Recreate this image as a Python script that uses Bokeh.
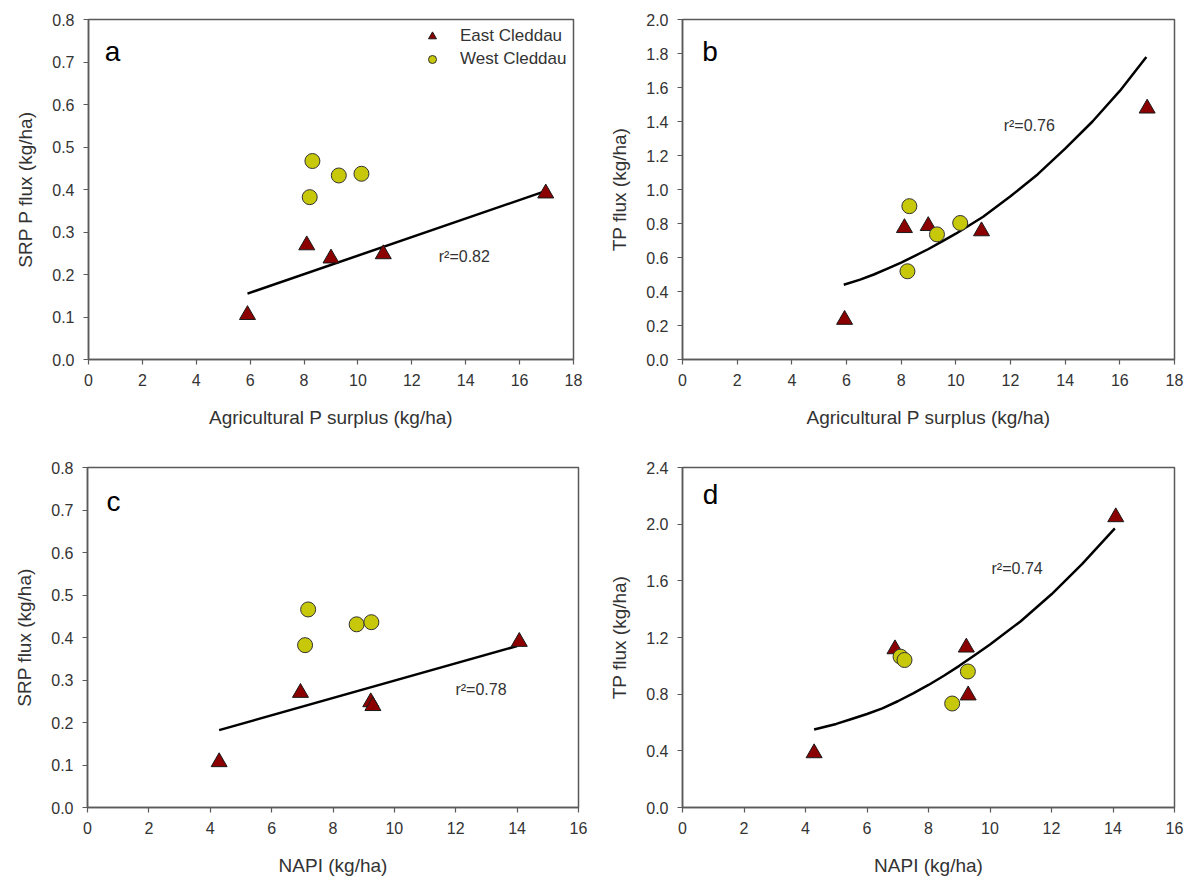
from bokeh.plotting import figure
from bokeh.models import Legend, LegendItem, Label, FixedTicker, PrintfTickFormatter, Range1d
from bokeh.layouts import column, row
from bokeh.embed import file_html
from bokeh.resources import INLINE

# ---------------- data ----------------
# Panel a: SRP P flux vs agricultural P surplus
a_east_x = [5.9, 8.1, 9.0, 10.94, 16.97]
a_east_y = [0.105, 0.269, 0.238, 0.248, 0.391]
a_west_x = [8.21, 8.31, 9.29, 10.13]
a_west_y = [0.382, 0.467, 0.433, 0.437]
a_fit_x = [5.9, 16.9]
a_fit_y = [0.155, 0.395]
a_r2 = "r\u00b2=0.82"

# Panel b: TP flux vs agricultural P surplus
b_east_x = [5.93, 8.12, 8.99, 10.94, 17.0]
b_east_y = [0.234, 0.774, 0.786, 0.755, 1.477]
b_west_x = [8.23, 8.30, 9.31, 10.16]
b_west_y = [0.519, 0.902, 0.736, 0.803]
b_fit_x = [5.9, 6.5, 7, 7.5, 8, 8.5, 9, 9.5, 10, 11, 12, 13, 14, 15, 16, 16.97]
b_fit_y = [0.44, 0.47, 0.50, 0.535, 0.57, 0.61, 0.65, 0.695, 0.74, 0.84, 0.96, 1.09,
           1.24, 1.40, 1.58, 1.78]
b_r2 = "r\u00b2=0.76"

# Panel c: SRP flux vs NAPI
c_east_x = [4.29, 6.94, 9.23, 9.30, 14.07]
c_east_y = [0.107, 0.270, 0.248, 0.239, 0.390]
c_west_x = [7.09, 7.19, 8.77, 9.25]
c_west_y = [0.382, 0.466, 0.431, 0.436]
c_fit_x = [4.29, 14.0]
c_fit_y = [0.182, 0.380]
c_r2 = "r\u00b2=0.78"

# Panel d: TP flux vs NAPI
d_east_x = [4.28, 6.91, 9.23, 9.29, 14.09]
d_east_y = [0.384, 1.118, 1.130, 0.792, 2.050]
d_west_x = [7.09, 7.22, 8.77, 9.28]
d_west_y = [1.065, 1.041, 0.734, 0.960]
d_fit_x = [4.28, 5, 5.5, 6, 6.5, 7, 7.5, 8, 8.5, 9, 9.5, 10, 11, 12, 13, 14.06]
d_fit_y = [0.55, 0.59, 0.625, 0.66, 0.70, 0.75, 0.805, 0.865, 0.93, 1.0, 1.075, 1.15,
           1.315, 1.505, 1.72, 1.97]
d_r2 = "r\u00b2=0.74"

series_names = ["East Cleddau", "West Cleddau"]
x_ticks_surplus = [0, 2, 4, 6, 8, 10, 12, 14, 16, 18]
x_ticks_napi = [0, 2, 4, 6, 8, 10, 12, 14, 16]
y_ticks_srp = [0.0, 0.1, 0.2, 0.3, 0.4, 0.5, 0.6, 0.7, 0.8]
y_ticks_tp_b = [0.0, 0.2, 0.4, 0.6, 0.8, 1.0, 1.2, 1.4, 1.6, 1.8, 2.0]
y_ticks_tp_d = [0.0, 0.4, 0.8, 1.2, 1.6, 2.0, 2.4]

# ---------------- style ----------------
FONT = "Liberation Sans"
TRI_FILL = "#8b0000"
CIR_FILL = "#c8c80a"
AXIS_COL = "#5a5a5a"
TEXT_COL = "#333333"


def make_panel(ex, ey, wx, wy, fx, fy, r2, r2_pos, letter, letter_pos,
               xticks, yticks, xlabel, ylabel, borders):
    left, right, top, bottom = borders
    p = figure(width=595, height=443, output_backend="svg", toolbar_location=None,
               x_range=Range1d(xticks[0], xticks[-1]), y_range=Range1d(yticks[0], yticks[-1]),
               min_border_left=left, min_border_right=right,
               min_border_top=top, min_border_bottom=bottom)
    p.background_fill_color = "white"
    p.border_fill_color = "white"
    p.grid.visible = False
    p.outline_line_color = AXIS_COL
    p.outline_line_width = 1.5

    for ax in (p.xaxis[0], p.yaxis[0]):
        ax.axis_line_color = AXIS_COL
        ax.axis_line_width = 1.5
        ax.major_tick_line_color = AXIS_COL
        ax.major_tick_line_width = 1.2
        ax.major_tick_out = 5
        ax.major_tick_in = 0
        ax.minor_tick_line_color = None
        ax.major_label_text_font = FONT
        ax.major_label_text_font_size = "16px"
        ax.major_label_text_color = TEXT_COL
        ax.major_label_standoff = 9
        ax.axis_label_text_font = FONT
        ax.axis_label_text_font_size = "19px"
        ax.axis_label_text_font_style = "normal"
        ax.axis_label_text_color = TEXT_COL
    p.xaxis.axis_label_standoff = 18
    p.yaxis.axis_label_standoff = 13

    p.xaxis.ticker = FixedTicker(ticks=xticks)
    p.yaxis.ticker = FixedTicker(ticks=yticks)
    p.yaxis.formatter = PrintfTickFormatter(format="%.1f")
    p.xaxis.axis_label = xlabel
    p.yaxis.axis_label = ylabel

    p.line(fx, fy, line_color="black", line_width=2.5, line_join="round")
    r_e = p.scatter(ex, ey, marker="triangle", size=16, fill_color=TRI_FILL,
                    line_color="#1a1a1a", line_width=1)
    r_w = p.scatter(wx, wy, marker="circle", size=15, fill_color=CIR_FILL,
                    line_color="#333333", line_width=1)

    p.add_layout(Label(x=r2_pos[0], y=r2_pos[1], text=r2, text_font=FONT,
                       text_font_size="16px", text_color=TEXT_COL,
                       text_baseline="middle"))
    p.add_layout(Label(x=letter_pos[0], y=letter_pos[1], text=letter, text_font=FONT,
                       text_font_size="28px", text_color="black",
                       text_baseline="middle"))
    return p, r_e, r_w


pa, ra_e, ra_w = make_panel(a_east_x, a_east_y, a_west_x, a_west_y, a_fit_x, a_fit_y,
                            a_r2, (13.0, 0.242), "a", (0.6, 0.725),
                            x_ticks_surplus, y_ticks_srp,
                            "Agricultural P surplus (kg/ha)", "SRP P flux (kg/ha)",
                            (88, 22, 19, 84))
pb, _, _ = make_panel(b_east_x, b_east_y, b_west_x, b_west_y, b_fit_x, b_fit_y,
                      b_r2, (11.75, 1.374), "b", (0.72, 1.81),
                      x_ticks_surplus, y_ticks_tp_b,
                      "Agricultural P surplus (kg/ha)", "TP flux (kg/ha)",
                      (87, 16, 15, 83))
pc, _, _ = make_panel(c_east_x, c_east_y, c_west_x, c_west_y, c_fit_x, c_fit_y,
                      c_r2, (11.99, 0.277), "c", (0.62, 0.721),
                      x_ticks_napi, y_ticks_srp,
                      "NAPI (kg/ha)", "SRP flux (kg/ha)",
                      (87, 17, 20, 79))
pd, _, _ = make_panel(d_east_x, d_east_y, d_west_x, d_west_y, d_fit_x, d_fit_y,
                      d_r2, (10.05, 1.685), "d", (0.66, 2.21),
                      x_ticks_napi, y_ticks_tp_d,
                      "NAPI (kg/ha)", "TP flux (kg/ha)",
                      (87, 16, 24, 73))

legend = Legend(items=[LegendItem(label=series_names[0], renderers=[ra_e]),
                       LegendItem(label=series_names[1], renderers=[ra_w])],
                location=(329, 285), border_line_alpha=0, background_fill_alpha=0,
                padding=5, spacing=3, label_standoff=18, glyph_width=20, glyph_height=20,
                label_height=20, label_text_font=FONT, label_text_font_size="17px",
                label_text_color=TEXT_COL)
pa.add_layout(legend)

layout = column(row(pa, pb, spacing=0), row(pc, pd, spacing=0), spacing=0)
open("out.html", "w").write(file_html(layout, INLINE))
